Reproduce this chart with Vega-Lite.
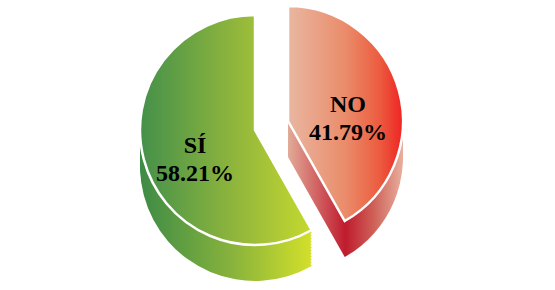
{
  "$schema": "https://vega.github.io/schema/vega-lite/v6.json",
  "width": 555,
  "height": 290,
  "padding": 0,
  "autosize": {"type": "none"},
  "background": "white",
  "view": {"stroke": null},
  "config": {
    "style": {
      "lbl": {"radius": 62, "align": "center", "baseline": "middle", "font": "Liberation Serif", "fontWeight": "bold", "fontSize": 24, "lineHeight": 28, "lineBreak": "\n", "fill": "#231f20"}
    }
  },
  "data": {"values": [
    {"respuesta": "SÍ", "valor": 58.21},
    {"respuesta": "NO", "valor": 41.79}
  ]},
  "transform": [
    {"stack": "valor", "groupby": [], "offset": "normalize", "sort": [{"field": "respuesta", "order": "ascending"}], "as": ["t0", "t1"]},
    {"calculate": "(datum.t0 + datum.t1) / 2", "as": "tm"},
    {"calculate": "datum.respuesta + '\\n' + format(datum.valor, '.2f') + '%'", "as": "etiqueta"}
  ],
  "encoding": {
    "theta": {"field": "t0", "type": "quantitative", "scale": {"domain": [0, 1]}},
    "theta2": {"field": "t1"}
  },
  "layer": [
    {"transform": [{"filter": "datum.respuesta === 'SÍ'"}], "mark": {"type": "arc", "radius": 115, "x": 255, "y": 166, "fill": {"gradient": "linear", "x1": 0, "y1": 0, "x2": 1, "y2": 0, "stops": [{"offset": 0, "color": "#3d8b46"}, {"offset": 0.55, "color": "#8ab43c"}, {"offset": 1, "color": "#d3e02a"}]}}},
    {"transform": [{"filter": "datum.respuesta === 'SÍ'"}], "mark": {"type": "arc", "radius": 115, "x": 255, "y": 163, "fill": {"gradient": "linear", "x1": 0, "y1": 0, "x2": 1, "y2": 0, "stops": [{"offset": 0, "color": "#3d8b46"}, {"offset": 0.55, "color": "#8ab43c"}, {"offset": 1, "color": "#d3e02a"}]}}},
    {"transform": [{"filter": "datum.respuesta === 'SÍ'"}], "mark": {"type": "arc", "radius": 115, "x": 255, "y": 160, "fill": {"gradient": "linear", "x1": 0, "y1": 0, "x2": 1, "y2": 0, "stops": [{"offset": 0, "color": "#3d8b46"}, {"offset": 0.55, "color": "#8ab43c"}, {"offset": 1, "color": "#d3e02a"}]}}},
    {"transform": [{"filter": "datum.respuesta === 'SÍ'"}], "mark": {"type": "arc", "radius": 115, "x": 255, "y": 157, "fill": {"gradient": "linear", "x1": 0, "y1": 0, "x2": 1, "y2": 0, "stops": [{"offset": 0, "color": "#3d8b46"}, {"offset": 0.55, "color": "#8ab43c"}, {"offset": 1, "color": "#d3e02a"}]}}},
    {"transform": [{"filter": "datum.respuesta === 'SÍ'"}], "mark": {"type": "arc", "radius": 115, "x": 255, "y": 154, "fill": {"gradient": "linear", "x1": 0, "y1": 0, "x2": 1, "y2": 0, "stops": [{"offset": 0, "color": "#3d8b46"}, {"offset": 0.55, "color": "#8ab43c"}, {"offset": 1, "color": "#d3e02a"}]}}},
    {"transform": [{"filter": "datum.respuesta === 'SÍ'"}], "mark": {"type": "arc", "radius": 115, "x": 255, "y": 151, "fill": {"gradient": "linear", "x1": 0, "y1": 0, "x2": 1, "y2": 0, "stops": [{"offset": 0, "color": "#3d8b46"}, {"offset": 0.55, "color": "#8ab43c"}, {"offset": 1, "color": "#d3e02a"}]}}},
    {"transform": [{"filter": "datum.respuesta === 'SÍ'"}], "mark": {"type": "arc", "radius": 115, "x": 255, "y": 148, "fill": {"gradient": "linear", "x1": 0, "y1": 0, "x2": 1, "y2": 0, "stops": [{"offset": 0, "color": "#3d8b46"}, {"offset": 0.55, "color": "#8ab43c"}, {"offset": 1, "color": "#d3e02a"}]}}},
    {"transform": [{"filter": "datum.respuesta === 'SÍ'"}], "mark": {"type": "arc", "radius": 115, "x": 255, "y": 145, "fill": {"gradient": "linear", "x1": 0, "y1": 0, "x2": 1, "y2": 0, "stops": [{"offset": 0, "color": "#3d8b46"}, {"offset": 0.55, "color": "#8ab43c"}, {"offset": 1, "color": "#d3e02a"}]}}},
    {"transform": [{"filter": "datum.respuesta === 'SÍ'"}], "mark": {"type": "arc", "radius": 115, "x": 255, "y": 142, "fill": {"gradient": "linear", "x1": 0, "y1": 0, "x2": 1, "y2": 0, "stops": [{"offset": 0, "color": "#3d8b46"}, {"offset": 0.55, "color": "#8ab43c"}, {"offset": 1, "color": "#d3e02a"}]}}},
    {"transform": [{"filter": "datum.respuesta === 'SÍ'"}], "mark": {"type": "arc", "radius": 115, "x": 255, "y": 139, "fill": {"gradient": "linear", "x1": 0, "y1": 0, "x2": 1, "y2": 0, "stops": [{"offset": 0, "color": "#3d8b46"}, {"offset": 0.55, "color": "#8ab43c"}, {"offset": 1, "color": "#d3e02a"}]}}},
    {"transform": [{"filter": "datum.respuesta === 'SÍ'"}], "mark": {"type": "arc", "radius": 115, "x": 255, "y": 136, "fill": {"gradient": "linear", "x1": 0, "y1": 0, "x2": 1, "y2": 0, "stops": [{"offset": 0, "color": "#3d8b46"}, {"offset": 0.55, "color": "#8ab43c"}, {"offset": 1, "color": "#d3e02a"}]}}},
    {"transform": [{"filter": "datum.respuesta === 'SÍ'"}], "mark": {"type": "arc", "radius": 115, "x": 255, "y": 133, "fill": {"gradient": "linear", "x1": 0, "y1": 0, "x2": 1, "y2": 0, "stops": [{"offset": 0, "color": "#3d8b46"}, {"offset": 0.55, "color": "#8ab43c"}, {"offset": 1, "color": "#d3e02a"}]}}},
    {"transform": [{"filter": "datum.respuesta === 'SÍ'"}],
     "mark": {"type": "arc", "x": 255, "y": 130, "radius": 115, "stroke": "white", "strokeWidth": 2.5, "fill": {"gradient": "linear", "x1": 0, "y1": 0, "x2": 1, "y2": 0, "stops": [{"offset": 0, "color": "#44904a"}, {"offset": 0.6, "color": "#96b93b"}, {"offset": 1, "color": "#c5d92e"}]}}},
    {"transform": [{"filter": "datum.respuesta === 'NO'"}], "mark": {"type": "arc", "radius": 115, "x": 288, "y": 157, "fill": {"gradient": "linear", "x1": 0, "y1": 0, "x2": 1, "y2": 0, "stops": [{"offset": 0, "color": "#e2ab98"}, {"offset": 0.5, "color": "#c01b2e"}, {"offset": 0.75, "color": "#cf6259"}, {"offset": 1, "color": "#e8b09e"}]}}},
    {"transform": [{"filter": "datum.respuesta === 'NO'"}], "mark": {"type": "arc", "radius": 115, "x": 288, "y": 151, "fill": {"gradient": "linear", "x1": 0, "y1": 0, "x2": 1, "y2": 0, "stops": [{"offset": 0, "color": "#e2ab98"}, {"offset": 0.5, "color": "#c01b2e"}, {"offset": 0.75, "color": "#cf6259"}, {"offset": 1, "color": "#e8b09e"}]}}},
    {"transform": [{"filter": "datum.respuesta === 'NO'"}], "mark": {"type": "arc", "radius": 115, "x": 288, "y": 145, "fill": {"gradient": "linear", "x1": 0, "y1": 0, "x2": 1, "y2": 0, "stops": [{"offset": 0, "color": "#e2ab98"}, {"offset": 0.5, "color": "#c01b2e"}, {"offset": 0.75, "color": "#cf6259"}, {"offset": 1, "color": "#e8b09e"}]}}},
    {"transform": [{"filter": "datum.respuesta === 'NO'"}], "mark": {"type": "arc", "radius": 115, "x": 288, "y": 139, "fill": {"gradient": "linear", "x1": 0, "y1": 0, "x2": 1, "y2": 0, "stops": [{"offset": 0, "color": "#e2ab98"}, {"offset": 0.5, "color": "#c01b2e"}, {"offset": 0.75, "color": "#cf6259"}, {"offset": 1, "color": "#e8b09e"}]}}},
    {"transform": [{"filter": "datum.respuesta === 'NO'"}], "mark": {"type": "arc", "radius": 115, "x": 288, "y": 133, "fill": {"gradient": "linear", "x1": 0, "y1": 0, "x2": 1, "y2": 0, "stops": [{"offset": 0, "color": "#e2ab98"}, {"offset": 0.5, "color": "#c01b2e"}, {"offset": 0.75, "color": "#cf6259"}, {"offset": 1, "color": "#e8b09e"}]}}},
    {"transform": [{"filter": "datum.respuesta === 'NO'"}], "mark": {"type": "arc", "radius": 115, "x": 288, "y": 127, "fill": {"gradient": "linear", "x1": 0, "y1": 0, "x2": 1, "y2": 0, "stops": [{"offset": 0, "color": "#e2ab98"}, {"offset": 0.5, "color": "#c01b2e"}, {"offset": 0.75, "color": "#cf6259"}, {"offset": 1, "color": "#e8b09e"}]}}},
    {"transform": [{"filter": "datum.respuesta === 'NO'"}],
     "mark": {"type": "arc", "x": 288, "y": 121, "radius": 115, "stroke": "white", "strokeWidth": 2.5, "fill": {"gradient": "linear", "x1": 0, "y1": 0, "x2": 1, "y2": 0, "stops": [{"offset": 0, "color": "#e9b7a2"}, {"offset": 0.5, "color": "#ea8c6a"}, {"offset": 0.8, "color": "#ec5b3f"}, {"offset": 1, "color": "#ee2323"}]}}},
    {"transform": [{"filter": "datum.respuesta === 'SÍ'"}],
     "mark": {"type": "text", "style": "lbl", "x": 255, "y": 130},
     "encoding": {"theta": {"field": "tm", "type": "quantitative", "scale": {"domain": [0, 1]}}, "theta2": null, "text": {"field": "etiqueta", "type": "nominal"}}},
    {"transform": [{"filter": "datum.respuesta === 'NO'"}],
     "mark": {"type": "text", "style": "lbl", "x": 288, "y": 121},
     "encoding": {"theta": {"field": "tm", "type": "quantitative", "scale": {"domain": [0, 1]}}, "theta2": null, "text": {"field": "etiqueta", "type": "nominal"}}}
  ]
}
